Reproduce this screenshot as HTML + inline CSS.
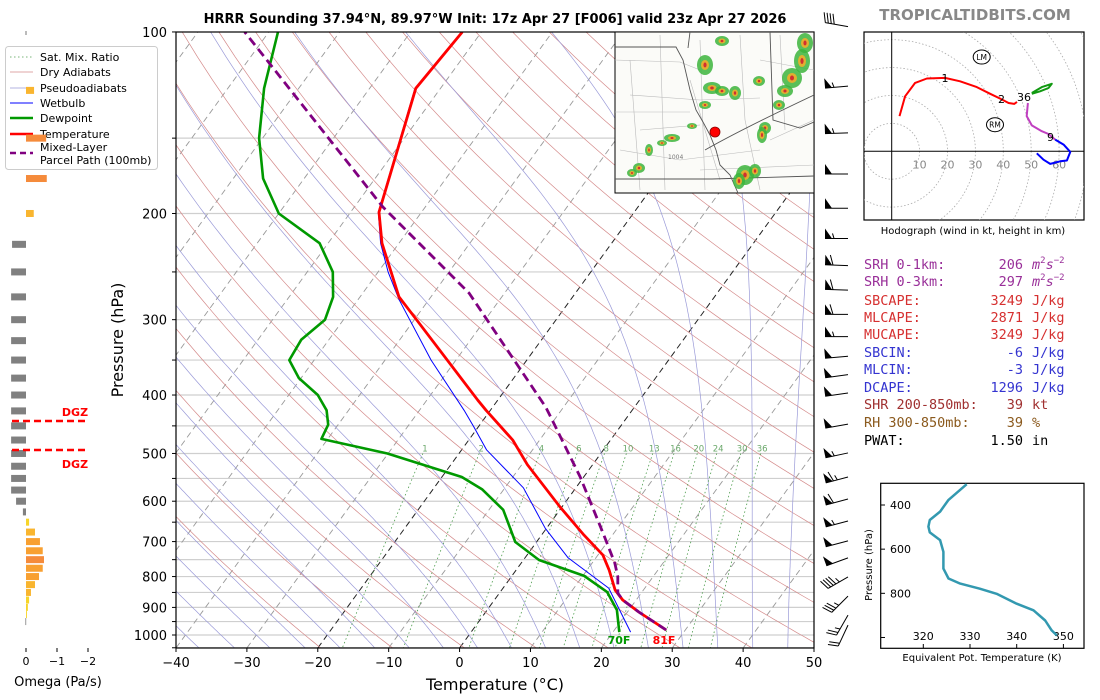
<!DOCTYPE html>
<html><head><meta charset="utf-8"><style>
html,body{margin:0;padding:0;background:#fff;}
svg{display:block;font-family:"DejaVu Sans","Liberation Sans",sans-serif;}
</style></head><body>
<svg id="chart" width="1100" height="700" viewBox="0 0 1100 700" xmlns="http://www.w3.org/2000/svg">
<defs>
<clipPath id="mainclip"><rect x="176" y="32" width="638" height="616"/></clipPath>
<clipPath id="hodoclip"><rect x="864" y="32" width="220" height="188"/></clipPath>
<clipPath id="mapclip"><rect x="615" y="32" width="199" height="161"/></clipPath>
</defs>
<rect x="0" y="0" width="1100" height="700" fill="#fff"/>
<text x="495" y="23" text-anchor="middle" font-size="13" font-weight="bold">HRRR Sounding 37.94°N, 89.97°W Init: 17z Apr 27 [F006] valid 23z Apr 27 2026</text>
<text x="975" y="20" text-anchor="middle" font-size="15" font-weight="bold" fill="#888">TROPICALTIDBITS.COM</text>
<g id="bg" clip-path="url(#mainclip)"></g>
<g id="profiles" clip-path="url(#mainclip)"></g>
<g id="axes"></g>
<g id="map"></g>
<g id="barbs"></g>
<g id="legend"></g>
<g id="omega"></g>
<g id="hodo"></g>
<g id="stats"></g>
<g id="thetae"></g>
</svg>
<script>
// ---- data ----
const tempP=[100,124,199,224,275,300,408,424,475,522,613,683,737,780,842,875,916,981];
const tempT=[-62.7,-63.5,-56,-52.4,-44.5,-39.7,-22.8,-20.6,-13.8,-9.2,-0.3,6,10.7,13.1,16,18.1,21.6,27.3];
const dewP=[100,124,150,175,200,224,250,275,300,324,350,375,400,424,448,473,500,547,573,620,701,751,798,849,909,989];
const dewT=[-88.7,-84.9,-80.5,-75.8,-70,-61.2,-56.4,-53.8,-52.6,-53.9,-53.5,-50.3,-45.9,-43.1,-41.4,-40.9,-30.1,-17.2,-13.1,-8,-3,2.2,10.2,15.1,18.3,20.9];
const wbP=[100,124,199,224,250,278,350,424,452,493,570,665,745,836,989];
const wbT=[-62.8,-63.6,-56.1,-52.6,-48.6,-44.2,-33.5,-23.7,-20.6,-16.5,-7.4,-0.2,6.1,14.9,22.5];
const parP=[981,916,875,852,800,760,678,547,435,419,271,195,100];
const parT=[27.3,21.6,18.1,16.7,15,13.2,8.5,-0.5,-10.8,-12.5,-35,-56,-93.4];
const omegaP=[125,150,175,200,225,250,275,300,325,350,375,400,425,450,475,500,525,550,575,600,625,650,675,700,725,750,775,800,825,850,875,900,925,950];
const omegaV=[-0.26,-0.65,-0.67,-0.25,0.45,0.48,0.48,0.48,0.48,0.48,0.48,0.48,0.48,0.48,0.48,0.48,0.48,0.48,0.48,0.32,0.1,-0.1,-0.29,-0.45,-0.54,-0.58,-0.54,-0.42,-0.29,-0.16,-0.1,-0.06,-0.03,0.02];
const barbP=[98,123,147,172,196,220,244,268,294,320,345,370,397,447,499,547,595,647,698,745,801,862,927,963];
const barbSpd=[40,55,55,50,50,55,60,60,60,55,50,50,50,50,55,65,60,55,50,50,45,35,25,20];
const barbDir=[280,265,268,270,270,270,272,272,270,270,265,262,262,260,258,255,255,255,255,250,240,225,210,205];
const hodoU=[2.8,4.8,8.4,12.6,19.1,24.5,30.5,35.3,38.9,41.9,43.9,44.9];
const hodoV=[12.6,19.7,24.5,26.1,26.3,25.1,23,20.6,18.9,17.3,17,17.7];
const hodoU2=[48.8,48.4,50.2,53.8,56.2,58.6];
const hodoV2=[17.3,12.6,9.3,7.2,6.2,4.2];
const hodoU3=[58.6,61.6,64,62.8,60.4,56.8,54.4,52];
const hodoV3=[4.2,2.4,-0.2,-3.3,-3.6,-4.5,-3,-0.7];
const hodoU4=[50.2,53.8,57.4,56.2,53.2,50.2];
const hodoV4=[20.9,23,24.2,22.7,21.5,20.6];
const thetaK=[329.3,325.4,323.6,321.4,321.1,321.4,323.6,324.3,324.3,325.4,327.9,332.1,335.7,340,343.6,346.1,347.5,348.6];
const thetaP=[306,377,430,468,498,524,559,612,688,733,756,779,802,847,877,923,968,991];
const xTicks=[-40,-30,-20,-10,0,10,20,30,40,50];
const yTicks=[100,200,300,400,500,600,700,800,900,1000];
const mixRatios=[1,2,4,6,8,10,13,16,20,24,30,36];

// ---- scales ----
const NS='http://www.w3.org/2000/svg';
function yP(p){return 635+261.9*Math.log(p/1000);}
function xT(T,p){return 176+(T+40)*7.089+(648-yP(p))*0.726;}
function el(tag,attrs,parent){const e=document.createElementNS(NS,tag);for(const k in attrs)e.setAttribute(k,attrs[k]);parent.appendChild(e);return e;}
function txt(s,attrs,parent){const e=el('text',attrs,parent);e.textContent=s;return e;}
const bg=document.getElementById('bg');
for(let p=100;p<=1050;p+=50){const l=el('line',{x1:176,x2:814,y1:yP(p),y2:yP(p),stroke:'#cfcfcf','stroke-width':1.2},bg);

}
function curve(fn,p0,p1,step){let d='';let first=true;for(let p=p0;step>0?p<=p1:p>=p1;p+=step){const T=fn(p);if(T===null)continue;d+=(first?'M':'L')+xT(T,p).toFixed(1)+','+yP(p).toFixed(1);first=false;}return d;}
for(let t=-130;t<=50;t+=10){const l=el('line',{x1:xT(t,1050),y1:yP(1050),x2:xT(t,100),y2:yP(100),stroke:(t===0||t===-20)?'#222':'#999','stroke-width':(t===0||t===-20)?1:0.9,'stroke-dasharray':'6,4'},bg);

}
for(let th=250;th<=520;th+=10){const d=curve(p=>th*Math.pow(p/1000,0.2857)-273.15,100,1050,10);const l=el('path',{d:d,fill:'none',stroke:'#d48a8a','stroke-width':0.7},bg);

}
function es(Tc){return 6.112*Math.exp(17.67*Tc/(Tc+243.5));}
function moistProfile(T0){
 function dTdp(T,p){const e=es(T-273.15);const rs=0.622*e/(p-e);return (287*T+2.5e6*rs)/(1005+2.5e6*2.5e6*rs*0.622/(287*T*T))/p;}
 let Tu=T0+273.15;const up=[[1000,Tu]];for(let p=1000;p>100;p-=5){Tu-=dTdp(Tu,p)*5;up.push([p-5,Tu]);}
 let Td=T0+273.15;const dn=[];for(let p=1000;p<1050;p+=5){Td+=dTdp(Td,p)*5;dn.push([p+5,Td]);}
 return dn.reverse().concat(up);}
for(let t=-40;t<=45;t+=5){const pr=moistProfile(t);let d='';pr.forEach((q,i)=>{d+=(i?'L':'M')+xT(q[1]-273.15,q[0]).toFixed(1)+','+yP(q[0]).toFixed(1);});const l=el('path',{d:d,fill:'none',stroke:'#9a9ad8','stroke-width':0.7},bg);

}
function tdW(w,p){const e=w*p/(622+w);const a=Math.log(e/6.112);return 243.5*a/(17.67-a);}
mixRatios.forEach(w=>{const d=curve(p=>tdW(w,p),500,1050,10);const l=el('path',{d:d,fill:'none',stroke:'#4c9c4c','stroke-width':0.8,'stroke-dasharray':'1.5,2.5'},bg);


const t=txt(String(w),{x:xT(tdW(w,491),491),y:yP(491)+3,'text-anchor':'middle','font-size':8.5,fill:'#6aa86a'},document.getElementById('axes'));

});
const prof=document.getElementById('profiles');
function line(P,T,attrs,name){let d='';P.forEach((p,i)=>{d+=(i?'L':'M')+xT(T[i],p).toFixed(1)+','+yP(p).toFixed(1);});const l=el('path',Object.assign({d:d,fill:'none','stroke-linejoin':'round'},attrs),prof);

}
line(wbP,wbT,{stroke:'#0000ff','stroke-width':1},'wetbulb-line');
line(dewP,dewT,{stroke:'#009900','stroke-width':2.6},'dewpoint-line');
line(tempP,tempT,{stroke:'#ff0000','stroke-width':2.8},'temperature-line');
line(parP,parT,{stroke:'#800080','stroke-width':2.8,'stroke-dasharray':'9,5'},'parcel-path-line');
const ax=document.getElementById('axes');
el('rect',{x:176,y:32,width:638,height:616,fill:'none',stroke:'#000','stroke-width':1.2},ax);
xTicks.forEach(t=>{const x=176+(t+40)*7.089;el('line',{x1:x,x2:x,y1:648,y2:652,stroke:'#000'},ax);
const tt=txt(String(t).replace('-','\u2212'),{x:x,y:667,'text-anchor':'middle','font-size':13},ax);

});
for(let p=100;p<=1050;p+=50){el('line',{x1:172,x2:176,y1:yP(p),y2:yP(p),stroke:'#000'},ax);}
yTicks.forEach(p=>{const t=txt(String(p),{x:167,y:yP(p)+5,'text-anchor':'end','font-size':13},ax);

});
const xl=txt('Temperature (°C)',{x:495,y:690,'text-anchor':'middle','font-size':16},ax);


const yl=txt('Pressure (hPa)',{x:123,y:340,'text-anchor':'middle','font-size':16,transform:'rotate(-90 123 340)'},ax);


const l70=txt('70F',{x:619,y:644,'text-anchor':'middle','font-size':11,'font-weight':'bold',fill:'#009900'},ax);


const l81=txt('81F',{x:664,y:644,'text-anchor':'middle','font-size':11,'font-weight':'bold',fill:'#ff0000'},ax);


const mp=document.getElementById('map');
el('rect',{x:615,y:32,width:199,height:161,fill:'#fbfbf8',stroke:'#000','stroke-width':1},mp);
const mg=el('g',{'clip-path':'url(#mapclip)'},mp);
const cty='M615,60 L680,62 L700,70 M630,95 L700,100 L760,98 M640,130 L700,125 M620,150 L680,160 L760,150 M700,40 L705,190 M660,35 L665,190 M740,35 L745,120 L760,190 M780,35 L785,130 M630,60 L640,190 M690,80 L720,180 M615,112 L690,112 M760,60 L814,70 M700,170 L814,165 M770,140 L814,120';
el('path',{d:cty,fill:'none',stroke:'#bbb','stroke-width':0.6},mg);
el('path',{d:'M615,47 L676,47 L683,60 L690,90 L696,110 L703,122 L710,135 L716,150 L720,165 L730,175 L738,193 M615,179 L712,179 M712,179 L814,176 M770,32 L773,120 L800,128 L814,122 M690,32 L688,48 M705,150 Q740,130 814,95',fill:'none',stroke:'#555','stroke-width':0.9},mg);
const storms=[[705,65,8,10],[712,88,9,6],[722,91,7,5],[735,93,6,7],[705,105,6,4],[692,126,5,3],[672,138,8,4],[662,143,5,3],[649,150,4,6],[639,168,6,5],[632,173,5,4],[722,41,7,5],[759,81,6,5],[792,78,10,10],[802,61,8,12],[785,91,8,6],[805,43,8,10],[765,128,6,6],[762,135,5,8],[745,175,9,10],[739,181,6,8],[755,171,6,7],[779,105,6,5]];
storms.forEach(s=>{el('ellipse',{cx:s[0],cy:s[1],rx:s[2],ry:s[3],fill:'#3cb43c',opacity:0.85},mg);el('ellipse',{cx:s[0],cy:s[1],rx:s[2]*0.5,ry:s[3]*0.5,fill:'#e0b030'},mg);el('ellipse',{cx:s[0],cy:s[1],rx:s[2]*0.2,ry:s[3]*0.25,fill:'#d03030'},mg);});
txt('1004',{x:668,y:159,'font-size':6,fill:'#777'},mg);
const dot=el('circle',{cx:715,cy:132,r:5,fill:'#ff0000',stroke:'#800','stroke-width':0.8},mp);


const bb=document.getElementById('barbs');
barbP.forEach((p,i)=>{const y=yP(p);const bx=848,by=y;const d=barbDir[i]*Math.PI/180;const sx=Math.sin(d),sy=-Math.cos(d);const L=23;
 const tx=bx+sx*L,ty=by+sy*L;const px=-sy,py=sx;let g=el('g',{},bb);
 
 
 el('line',{x1:bx,y1:by,x2:tx,y2:ty,stroke:'#000','stroke-width':1},g);
 let s=Math.round(barbSpd[i]/5)*5;let pos=0;
 const ppx=(py>0?-px:px),ppy=(py>0?-py:py);
 while(s>=50){const ax1=tx-sx*pos,ay1=ty-sy*pos;const ax2=tx-sx*(pos+7),ay2=ty-sy*(pos+7);
  el('polygon',{points:`${ax1},${ay1} ${ax1+ppx*10},${ay1+ppy*10} ${ax2},${ay2}`,fill:'#000'},g);pos+=8;s-=50;}
 while(s>=10){const ax1=tx-sx*pos,ay1=ty-sy*pos;el('line',{x1:ax1,y1:ay1,x2:ax1+ppx*10+sx*3,y2:ay1+ppy*10+sy*3,stroke:'#000','stroke-width':1},g);pos+=3;s-=10;}
 if(s>=5){const ax1=tx-sx*(pos+1),ay1=ty-sy*(pos+1);el('line',{x1:ax1,y1:ay1,x2:ax1+ppx*5+sx*1.5,y2:ay1+ppy*5+sy*1.5,stroke:'#000','stroke-width':1},g);}
});
const lg=document.getElementById('legend');
el('rect',{x:5.5,y:46.5,width:152,height:123,rx:3,fill:'#fff','fill-opacity':0.8,stroke:'#ccc'},lg);
const items=[['Sat. Mix. Ratio','#4c9c4c',0.8,'1.5,2.5',57],['Dry Adiabats','#d48a8a',0.8,'',72],['Pseudoadiabats','#9a9ad8',0.8,'',88],['Wetbulb','#0000ff',1,'',103],['Dewpoint','#009900',2.5,'',118],['Temperature','#ff0000',2.5,'',134],['Mixed-Layer','#800080',2.5,'6,4',156]];
items.forEach(it=>{const g=el('g',{},lg);


const ly=it[4]===156?153:it[4];
el('line',{x1:10,x2:33,y1:ly,y2:ly,stroke:it[1],'stroke-width':it[2],'stroke-dasharray':it[3]},g);
txt(it[0],{x:40,y:it[4]===156?151:ly+4,'font-size':11},g);});
txt('Parcel Path (100mb)',{x:40,y:164,'font-size':11},lg);
const om=document.getElementById('omega');
function omX(v){return 26-v*31;}
function omColor(v){const a=Math.abs(v);if(v>0)return '#808080';if(a<0.15)return '#f7d52a';if(a<0.35)return '#f9b52f';if(a<0.55)return '#f8a031';return '#f58b3b';}
omegaP.forEach((p,i)=>{const v=omegaV[i];const x0=omX(0),x1=omX(v);const r=el('rect',{x:Math.min(x0,x1),y:yP(p)-3.5,width:Math.max(Math.abs(x1-x0),0.8),height:7,fill:omColor(v)},om);

});
el('line',{x1:26,x2:26,y1:31,y2:35,stroke:'#777'},om);
[[0,'0'],[-1,'\u22121'],[-2,'\u22122']].forEach(t=>{const x=omX(t[0]);el('line',{x1:x,x2:x,y1:648,y2:652,stroke:'#000'},om);
const tt=txt(t[1],{x:x,y:665,'text-anchor':'middle','font-size':11},om);

});
const ot=txt('Omega (Pa/s)',{x:58,y:686,'text-anchor':'middle','font-size':13},om);


[[421,412],[450,464]].forEach(q=>{const l=el('line',{x1:12,x2:88,y1:q[0],y2:q[0],stroke:'#ff0000','stroke-width':2.5,'stroke-dasharray':'7,4'},om);


const t=txt('DGZ',{x:75,y:q[1]+4,'text-anchor':'middle','font-size':11,'font-weight':'bold',fill:'#ff0000'},om);

});
const hd=document.getElementById('hodo');
const HX=891.7,HY=151.3,HS=2.79;
function hx(u){return HX+u*HS;} function hy(v){return HY-v*HS;}
el('rect',{x:864,y:32,width:220,height:188,fill:'#fff',stroke:'#000','stroke-width':1.2},hd);
const hg=el('g',{'clip-path':'url(#hodoclip)'},hd);
for(let r=10;r<=90;r+=10){el('circle',{cx:HX,cy:HY,r:r*HS,fill:'none',stroke:'#aaa','stroke-width':0.8,'stroke-dasharray':'1.5,2'},hg);}
el('line',{x1:HX,x2:HX,y1:32,y2:220,stroke:'#000','stroke-width':1},hg);
el('line',{x1:864,x2:1084,y1:HY,y2:HY,stroke:'#000','stroke-width':1},hg);
for(let r=10;r<=60;r+=10){txt(String(r),{x:hx(r),y:HY+17,'text-anchor':'middle','font-size':11,fill:'#888'},hg);}
function hline(U,V,c,name){let d='';U.forEach((u,i)=>{d+=(i?'L':'M')+hx(u).toFixed(1)+','+hy(V[i]).toFixed(1);});const l=el('path',{d:d,fill:'none',stroke:c,'stroke-width':2,'stroke-linejoin':'round'},hg);

}
hline(hodoU,hodoV,'#ff0000','hodograph-0-3km');
hline(hodoU2,hodoV2,'#c040c0','hodograph-3-9km');
hline(hodoU3,hodoV3,'#0000ff','hodograph-9-12km');
hline(hodoU4,hodoV4,'#119911','hodograph-upper');
[['1',945,82],['2',1001.5,103],['36',1024,101],['9',1050.5,141]].forEach(t=>{const e=txt(t[0],{x:t[1],y:t[2],'text-anchor':'middle','font-size':11,fill:'#000'},hg);

});
[['LM',981.7,57],['RM',995,124.7]].forEach(t=>{el('ellipse',{cx:t[1],cy:t[2],rx:8.5,ry:7,fill:'#fff',stroke:'#000','stroke-width':1},hg);
const e=txt(t[0],{x:t[1],y:t[2]+3,'text-anchor':'middle','font-size':7.5},hg);

});
const hc=txt('Hodograph (wind in kt, height in km)',{x:973,y:234,'text-anchor':'middle','font-size':10},hd);


const st=document.getElementById('stats');
const rows=[['SRH 0-1km:','206','m2','#992f99',269],['SRH 0-3km:','297','m2','#992f99',286],['SBCAPE:','3249','J/kg','#d63030',305],['MLCAPE:','2871','J/kg','#d63030',322],['MUCAPE:','3249','J/kg','#d63030',339],['SBCIN:','-6','J/kg','#3434d0',357],['MLCIN:','-3','J/kg','#3434d0',374],['DCAPE:','1296','J/kg','#3434d0',392],['SHR 200-850mb:','39','kt','#a03030',409],['RH 300-850mb:','39','%','#8b5a1e',427],['PWAT:','1.50','in','#000',445]];
rows.forEach(r=>{const g=el('g',{},st);


const f={'font-family':'"DejaVu Sans Mono","Liberation Mono",monospace','font-size':13.5,fill:r[3]};
txt(r[0],Object.assign({x:864,y:r[4]},f),g);
txt(r[1],Object.assign({x:1023,y:r[4],'text-anchor':'end'},f),g);
if(r[2]==='m2'){const t=el('text',Object.assign({x:1032,y:r[4],'font-style':'italic'},f),g);
 t.innerHTML='m<tspan font-size="9" dy="-6" font-style="normal">2</tspan><tspan dy="6">s</tspan><tspan font-size="9" dy="-6" font-style="normal">\u22122</tspan>';}
else txt(r[2],Object.assign({x:1032,y:r[4]},f),g);});
const te=document.getElementById('thetae');
function tx2(k){return 923.3+(k-320)*4.67;} function ty2(p){return 505+(p-400)*0.2208;}
el('rect',{x:880.7,y:483.3,width:203.3,height:165,fill:'#fff',stroke:'#000','stroke-width':1.2},te);
[400,600,800,1000].forEach(p=>{el('line',{x1:880.7,x2:885,y1:ty2(p),y2:ty2(p),stroke:'#000'},te);if(p<1000){const t=txt(String(p),{x:890,y:ty2(p)+4,'font-size':11},te);

}});
[320,330,340,350].forEach(k=>{el('line',{x1:tx2(k),x2:tx2(k),y1:648.3,y2:644,stroke:'#000'},te);const t=txt(String(k),{x:tx2(k),y:640,'text-anchor':'middle','font-size':11},te);

});
let dte='';thetaK.forEach((k,i)=>{dte+=(i?'L':'M')+tx2(k).toFixed(1)+','+ty2(thetaP[i]).toFixed(1);});
const tl=el('path',{d:dte,fill:'none',stroke:'#3399b0','stroke-width':2.5,'stroke-linejoin':'round'},te);


const tyl=txt('Pressure (hPa)',{x:872,y:565,'text-anchor':'middle','font-size':10,transform:'rotate(-90 872 565)'},te);


const txl=txt('Equivalent Pot. Temperature (K)',{x:982,y:661,'text-anchor':'middle','font-size':10},te);


</script>
</body></html>
